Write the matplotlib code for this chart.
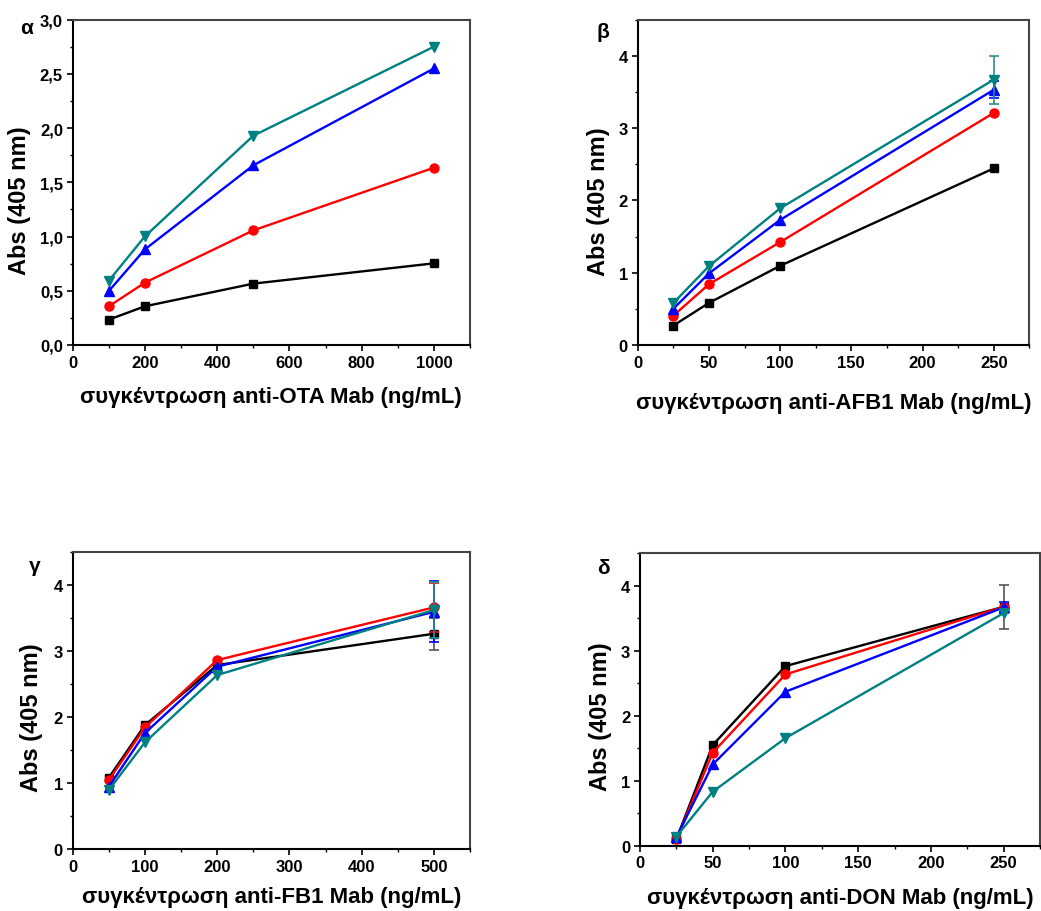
import numpy as np
import matplotlib
matplotlib.use("Agg")
import matplotlib.pyplot as plt
from matplotlib.ticker import MultipleLocator, FuncFormatter

plt.rcParams['font.family'] = ['Liberation Sans', 'DejaVu Sans']
plt.rcParams['font.weight'] = 'bold'

# panel α : anti-OTA
x_ota = [100, 200, 500, 1000]
ota_black = [0.234, 0.357, 0.566, 0.753]
ota_red = [0.357, 0.575, 1.057, 1.635]
ota_blue = [0.498, 0.882, 1.657, 2.55]
ota_teal = [0.593, 1.002, 1.93, 2.751]

# panel β : anti-AFB1
x_afb = [25, 50, 100, 250]
afb_black = [0.268, 0.582, 1.095, 2.443]
afb_red = [0.406, 0.84, 1.423, 3.21]
afb_blue = [0.5, 0.99, 1.73, 3.53]
afb_teal = [0.58, 1.09, 1.89, 3.67]
afb_err_blue = [0, 0, 0, 0.12]
afb_err_teal = [0, 0, 0, 0.33]

# panel γ : anti-FB1
x_fb = [50, 100, 200, 500]
fb_black = [1.079, 1.876, 2.784, 3.258]
fb_red = [1.044, 1.84, 2.86, 3.657]
fb_blue = [0.943, 1.755, 2.76, 3.59]
fb_teal = [0.893, 1.614, 2.633, 3.617]
fb_err_black = [0, 0, 0, 0.245]
fb_err_red = [0, 0, 0, 0.37]
fb_err_blue = [0, 0, 0, 0.46]
fb_err_teal = [0, 0, 0, 0.43]

# panel δ : anti-DON
x_don = [25, 50, 100, 250]
don_black = [0.10, 1.549, 2.764, 3.677]
don_red = [0.10, 1.431, 2.636, 3.677]
don_blue = [0.13, 1.251, 2.37, 3.667]
don_teal = [0.14, 0.831, 1.656, 3.58]
don_err_black = [0, 0, 0, 0.335]
don_err_blue = [0, 0, 0, 0.09]

colors = ['black', '#ff0000', '#0000ff', '#008080']
ecolors = ['#555555', '#ff0000', '#0000ff', '#2a8f8f']
markers = ['s', 'o', '^', 'v']
msizes = [6, 6.5, 7, 7]

W, H = 1041, 912
fig = plt.figure(figsize=(W / 100, H / 100), dpi=100)


def px_axes(l, t, r, b):
    return fig.add_axes([l / W, 1 - b / H, (r - l) / W, (b - t) / H])


def draw(ax, x, series, errs, xmax, xmaj, xmin, ymax, ymaj, ymin, comma=False):
    for i, y in enumerate(series):
        ax.plot(x, y, color=colors[i], marker=markers[i], ms=msizes[i], lw=1.7, zorder=3 + i)
        e = errs[i]
        if e is not None:
            idx = [k for k in range(len(x)) if e[k] > 0]
            ax.errorbar([x[k] for k in idx], [y[k] for k in idx], yerr=[e[k] for k in idx],
                        fmt='none', ecolor=ecolors[i], elinewidth=1.2, capsize=3.5,
                        capthick=1.2, zorder=2 + i)
    ax.set_xlim(0, xmax)
    ax.set_ylim(0, ymax)
    ax.xaxis.set_major_locator(MultipleLocator(xmaj))
    ax.xaxis.set_minor_locator(MultipleLocator(xmin))
    ax.yaxis.set_major_locator(MultipleLocator(ymaj))
    ax.yaxis.set_minor_locator(MultipleLocator(ymin))
    if comma:
        ax.yaxis.set_major_formatter(FuncFormatter(lambda v, p: ('%.1f' % v).replace('.', ',')))
    ax.tick_params(which='major', direction='out', length=4, width=1.2, labelsize=12, pad=3,
                   top=False, right=False)
    ax.tick_params(which='minor', direction='out', length=2.5, width=1.0, top=False, right=False)
    for lab in ax.get_xticklabels() + ax.get_yticklabels():
        lab.set_fontweight('bold')
    for s in ['left', 'bottom']:
        ax.spines[s].set_linewidth(1.5)
        ax.spines[s].set_color('black')
    for s in ['top', 'right']:
        ax.spines[s].set_linewidth(1.5)
        ax.spines[s].set_color('#444444')


ax1 = px_axes(72.7, 20.7, 470, 346)
draw(ax1, x_ota, [ota_black, ota_red, ota_blue, ota_teal], [None] * 4,
     1100, 200, 100, 3.0, 0.5, 0.25, comma=True)
ax1.set_xlabel('συγκέντρωση anti-OTA Mab (ng/mL)', fontsize=16, fontweight='bold')
ax1.set_ylabel('Abs (405 nm)', fontsize=17, fontweight='bold')
ax1.xaxis.set_label_coords(0.5, -0.125)
ax1.yaxis.set_label_coords(-0.105, 0.447)

ax2 = px_axes(637.7, 20.7, 1029.3, 346)
draw(ax2, x_afb, [afb_black, afb_red, afb_blue, afb_teal], [None, None, afb_err_blue, afb_err_teal],
     275, 50, 25, 4.5, 1, 0.5)
ax2.set_xlabel('συγκέντρωση anti-AFB1 Mab (ng/mL)', fontsize=16, fontweight='bold')
ax2.set_ylabel('Abs (405 nm)', fontsize=17, fontweight='bold')
ax2.xaxis.set_label_coords(0.5, -0.145)
ax2.yaxis.set_label_coords(-0.071, 0.444)

ax3 = px_axes(72.7, 552.7, 470, 850)
draw(ax3, x_fb, [fb_black, fb_red, fb_blue, fb_teal], [fb_err_black, fb_err_red, fb_err_blue, fb_err_teal],
     550, 100, 50, 4.5, 1, 0.5)
ax3.set_xlabel('συγκέντρωση anti-FB1 Mab (ng/mL)', fontsize=16, fontweight='bold')
ax3.set_ylabel('Abs (405 nm)', fontsize=17, fontweight='bold')
ax3.xaxis.set_label_coords(0.5, -0.125)
ax3.yaxis.set_label_coords(-0.075, 0.444)

ax4 = px_axes(640, 554.3, 1040, 846.7)
draw(ax4, x_don, [don_black, don_red, don_blue, don_teal], [don_err_black, None, don_err_blue, None],
     275, 50, 25, 4.5, 1, 0.5)
ax4.set_xlabel('συγκέντρωση anti-DON Mab (ng/mL)', fontsize=16, fontweight='bold')
ax4.set_ylabel('Abs (405 nm)', fontsize=17, fontweight='bold')
ax4.xaxis.set_label_coords(0.5, -0.14)
ax4.yaxis.set_label_coords(-0.07, 0.445)

for lbl, (px, py) in zip(['α', 'β', 'γ', 'δ'], [(27, 28), (603, 33), (35, 566), (603, 569)]):
    fig.text(px / W, 1 - py / H, lbl, fontsize=15, fontweight='bold', ha='center', va='center')

fig.savefig('out.png', dpi=100)
